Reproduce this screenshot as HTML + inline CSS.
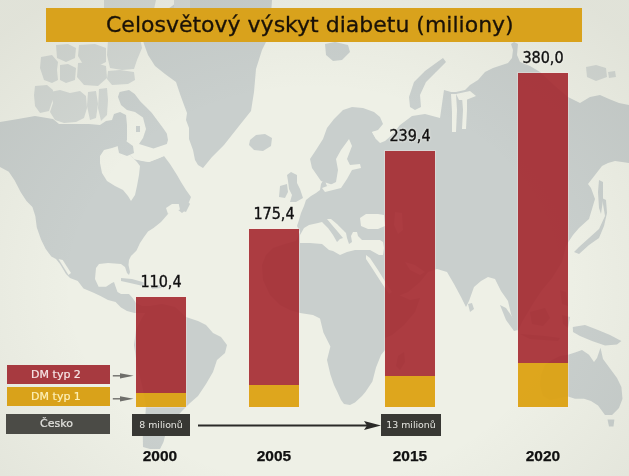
<!DOCTYPE html>
<html><head><meta charset="utf-8">
<style>
html,body{margin:0;padding:0;}
body{width:629px;height:476px;overflow:hidden;position:relative;background:#eef0e6;font-family:"DejaVu Sans","Liberation Sans",sans-serif;}
#map{position:absolute;left:0;top:0;}
.title{position:absolute;left:46px;top:8px;width:536px;height:34px;background:#d9a21c;}
.title span{position:absolute;left:60px;top:2px;font-size:22px;line-height:30px;color:#1a1208;white-space:nowrap;-webkit-text-stroke:0.3px #1a1208;}
.bar{position:absolute;width:50px;box-shadow:0 0 0 1px rgba(255,236,232,0.3);}
.red{background:rgba(164,40,47,0.9);}
.yel{background:rgba(220,161,18,0.95);}
.val{position:absolute;width:80px;text-align:center;font-family:"DejaVu Sans",sans-serif;font-stretch:condensed;font-size:16px;line-height:16px;color:#111;text-shadow:0 0 2px #f4f4ee,0 0 3px #f4f4ee;-webkit-text-stroke:0.35px #111;}
.yr{position:absolute;width:80px;text-align:center;font-family:"Liberation Sans",Arial,sans-serif;font-weight:bold;font-size:15.5px;line-height:16px;color:#111;-webkit-text-stroke:0.25px #111;}
.leg{position:absolute;left:7px;width:98px;padding-right:5px;height:19px;text-align:center;font-size:11px;line-height:19px;-webkit-text-stroke:0.2px currentColor;}
.box{position:absolute;height:21.5px;background:#383834;color:#e6e6e2;text-align:center;font-family:"DejaVu Sans",sans-serif;font-size:9.4px;line-height:21.5px;}
.vig{position:absolute;left:0;top:0;width:629px;height:476px;background:radial-gradient(ellipse 70% 75% at 50% 60%, rgba(90,90,80,0) 55%, rgba(90,90,80,0.09) 100%);}
</style></head><body>
<svg id="map" width="629" height="476" viewBox="0 0 629 476">
<path d="M0,122 L18,119 L35,116 L53,119 L59,124 L66,124 L74,124 L89,124 L100,125 L106,121 L112,120 L114,114 L120,112 L126,115 L127,125 L127,140 L124,146 L128,152 L134,159 L142,161 L149,162 L157,159 L164,156 L170,164 L177,175 L181,182 L186,190 L191,197 L189,202 L184,205 L187,209 L182,213 L177,209 L172,211 L168,214 L161,222 L153.5,228 L148,231.6 L144,237 L140,243 L136.5,250.5 L131,256 L129,260 L128.5,265 L130,272 L129,275 L127,273 L125,267 L121,264 L108,263 L99,264 L96,268 L95,279 L98.6,286.7 L106,286.7 L111.8,283 L114,282 L115.6,286.7 L117.5,292 L121,294 L129,294 L132.6,298 L136,303 L142,306 L150,306 L156,309 L150,313 L144,313 L134.5,313 L127,311 L121,307.5 L115.6,302 L108,300 L100.5,296 L93,292.4 L83.5,288.6 L77.8,281 L70,278 L66,274 L60,264 L56,259 L51.3,256.5 L45.7,249 L41,239.4 L36.8,227.6 L35.3,216 L32.4,207 L26.5,201 L20.6,192 L14.7,180.6 L8.8,171.8 L0,167 Z" fill="#c9cfcd"/>
<path d="M321,181 L312,168 L310,159 L316,150 L323,139 L327,128 L334,119 L343,110 L352,107 L363,108 L374,112 L380,117 L383,124 L378,130 L372,132 L376,139 L380,143 L385,141 L392,135 L400,125 L412,116 L425,114 L440,118 L444,90 L451,92 L456,92 L465,90 L470,85 L478,80 L485,72 L493,68 L499,66 L508,63 L512,58 L513,50 L511,44 L514,42 L518,44 L517,55 L520,62 L530,66 L540,72 L555,86 L568,97 L580,103 L590,97 L600,95 L609,99 L619,103 L629,105 L629,163 L615,161 L608,163 L602,166 L595,175 L588,184 L591,188 L595,199 L589,219 L579,228 L573,235 L569,241 L566,246 L562,262 L552,278 L542,290 L534,302 L528,312 L522,322 L518,331 L515,325 L511,314 L508,301 L501,291 L495,279 L488,277 L481,281 L474,287 L469,301 L466,307 L461,297 L454,284 L447,272 L437,269 L428,272 L420,282 L408,292 L398,296 L392,292 L410,300 L420,298 L415,312 L404,325 L392,335 L385,338 L385,350 L381,355 L376,367.4 L372.4,381.4 L365.4,392 L362,396 L355,402.4 L350,405 L344,404 L341,400 L337.4,392 L334,385 L330.4,374.4 L327,360 L330.4,346.5 L323.4,332.5 L320,318.5 L313,315 L300,313 L290,310 L280,305 L270,295 L263,280 L262,265 L266,255 L273,248 L285,244 L296,241 L300,232 L297,226 L299,220 L301,213 L304,206 L306,200 L311,196 L316,193 L320,190 L321,184 L324,179 L327,186 L333,185 Z" fill="#c9cfcd"/>
<path d="M150,306 L162,304 L175,307 L186,317 L198,321 L206,325 L213,333 L221,337 L227,345 L225,353 L217,360 L213,372 L206,384 L198,396 L190,403 L182,411 L172,422 L166,432 L163.5,442 L160,449 L150,449 L143,447 L142.8,436 L145,422 L146,405 L142,385 L137,365 L134,345 L136,330 L142,318 Z" fill="#c9cfcd"/>
<path d="M100,156 L104,150 L112,148 L118,146 L124,147 L128,152 L133,158 L137,162 L140,166 L139,175 L137,186 L135,195 L131,201 L128,196 L123,190 L115,186 L107,181 L102,173 L100,163 Z" fill="#eef0e6"/>
<path d="M124,146 L139,144 L153.5,148.5 L166.8,144 L172,150 L164,156 L149,162 L134,159 L128,152 Z" fill="#eef0e6"/>
<path d="M127,116 L135,115 L143,117.6 L146,129 L143,138 L139,144 L132,146 L127,140 Z" fill="#eef0e6"/>
<path d="M166,208 L172,204 L180,204 L182,209 L175,211 L168,214 Z" fill="#eef0e6"/>
<path d="M58.5,259 L62.7,260 L71,273 L68.5,275 Z" fill="#eef0e6"/>
<path d="M349,139 L352,146 L347,159 L350,165 L360,164 L361,168 L352,170 L347,179 L341,188 L333,190 L325,192 L322,188 L330,185 L336,182 L338,170 L336,159 L341,150 Z" fill="#eef0e6"/>
<path d="M372,132 L382,130 L386,136 L380,140 L376,139 Z" fill="#eef0e6"/>
<path d="M300,243 L300,235 L304,228 L309,225 L318,223 L322,222 L328,228 L333,235 L337,242 L340,239 L343,238 L338,232 L332,225 L327,219 L331,219 L337,224 L343,230 L346,233 L347,238 L349,244 L352,242 L351,236 L353,232 L357,232 L358,236 L362,240 L372,240 L380,240 L383,242 L384,248 L383,255 L379,255 L370,250 L355,250 L347,252 L340,255 L333,251 L329,250 L322,244 L310,243 Z" fill="#eef0e6"/>
<path d="M360,218 L366,214 L378,214 L384,215 L385,226 L378,229 L368,229 L361,226 Z" fill="#eef0e6"/>
<path d="M395,212 L402,213 L403,230 L398,234 L394,225 Z" fill="#eef0e6"/>
<path d="M366,255 L370,258 L378,270 L386,283 L392,292 L389,294 L381,282 L372,268 L366,259 Z" fill="#eef0e6"/>
<path d="M405,262 L415,265 L425,272 L420,275 L410,270 Z" fill="#eef0e6"/>
<path d="M451,94 L456,94 L457,110 L456,132 L452,132 L452,112 Z" fill="#eef0e6"/>
<path d="M462,97 L467,96 L467,110 L466,129 L462,129 L463,110 Z" fill="#eef0e6"/>
<path d="M456,94 L470,91 L476,96 L466,100 L459,100 Z" fill="#eef0e6"/>
<path d="M119.6,92 L129,90 L134.7,94 L140.4,101.5 L146,107 L151.7,112.8 L157.4,120.4 L163,128 L166.8,133.6 L168,140 L166.8,144 L153.5,148.5 L139,144 L143,138 L146,129 L143,117.6 L135,112 L127,110 L121,105 L118,97 Z" fill="#c9cfcd"/>
<path d="M117,143 L126,141 L133,146 L134,153 L127,156 L119,153 Z" fill="#c9cfcd"/>
<path d="M136,126 L140,126 L140,132 L136,132 Z" fill="#c9cfcd"/>
<path d="M178,200 L186,199 L190,204 L186,212 L180,210 Z" fill="#c9cfcd"/>
<path d="M121,278 L132,279 L146,283 L143,286 L130,283 L121,281 Z" fill="#c9cfcd"/>
<path d="M150,285 L160,285 L162,288 L152,289 Z" fill="#c9cfcd"/>
<path d="M180,0 L272,0 L270,30 L266,42 L262,50 L256,69 L254,92 L251,111 L239,126 L224,145 L212,157 L203,168 L198,165 L195,160 L193,150 L189,139 L189,128 L186,120 L187,113 L184,105 L180,94 L176,82 L165,74 L155,66 L148,55 L144,44 L140,30 Z" fill="#c9cfcd"/>
<path d="M250,140 L256,135 L265,134 L272,138 L271,146 L263,151 L254,150 L249,145 Z" fill="#c9cfcd"/>
<path d="M325,44 L335,42 L348,45 L350,52 L342,60 L333,61 L326,55 Z" fill="#c9cfcd"/>
<path d="M410,107 L409,97 L414,82 L425,71 L436,63 L443,58 L446,62 L436,72 L426,82 L420,95 L421,107 L415,110 Z" fill="#c9cfcd"/>
<path d="M291,172 L297,175 L297,183 L300,189 L303,198 L296,202 L290,202 L292,195 L289,189 L288,181 L287,175 Z" fill="#c9cfcd"/>
<path d="M280,186 L287,184 L288,192 L285,198 L279,197 Z" fill="#c9cfcd"/>
<path d="M602,198 L605,216 L599,229 L589,238 L579,247 L574,252 L579,254 L589,245 L599,238 L604,226 L607,213 L606,200 Z" fill="#c9cfcd"/>
<path d="M599,180 L603,182 L603,200 L601,214 L599,208 L598,192 Z" fill="#c9cfcd"/>
<path d="M398,356 L404,352 L405,362 L400,370 L396,366 Z" fill="#c9cfcd"/>
<path d="M468,304 L472,303 L474,309 L470,312 Z" fill="#c9cfcd"/>
<path d="M541,375 L545,365 L552,360 L560,356 L568,354.7 L575,352.4 L582,350 L589,354.7 L594,362 L597,358 L600.5,347.8 L603,359 L610,368.6 L617,378 L621.4,387 L622.5,398.7 L619,408 L612,415 L605,415 L598,405.6 L591,401 L584,398.7 L575,398.7 L568,396.4 L560,398 L550,400 L543,396 L540,385 Z" fill="#c9cfcd"/>
<path d="M607.5,419.5 L614.4,419.5 L613.5,426.5 L609,426.5 Z" fill="#c9cfcd"/>
<path d="M572.8,327 L585,325 L598,330 L610,335 L621.4,341 L617,344.5 L605,345.5 L592,341 L580,336 L573,332 Z" fill="#c9cfcd"/>
<path d="M500,305 L506,308 L513,318 L518,330 L514,331 L506,320 Z" fill="#c9cfcd"/>
<path d="M530,312 L545,308 L550,318 L543,326 L532,324 Z" fill="#c9cfcd"/>
<path d="M520,334 L545,336 L560,338 L558,341 L530,339 Z" fill="#c9cfcd"/>
<path d="M562,315 L570,317 L568,328 L563,324 Z" fill="#c9cfcd"/>
<path d="M560,290 L566,292 L568,306 L562,304 Z" fill="#c9cfcd"/>
<path d="M99,89 L107,88 L108,100 L107,115 L101,121 L98,108 Z" fill="#d2d7d3"/>
<path d="M88,92 L96,91 L98,104 L96,118 L90,120 L87,106 Z" fill="#d2d7d3"/>
<path d="M50,92 L60,90 L70,93 L80,91 L86,96 L87,108 L84,118 L76,122 L64,123 L55,120 L50,112 L53,103 Z" fill="#d2d7d3"/>
<path d="M35,86 L47,85 L53,90 L52,102 L49,111 L40,113 L35,106 L34,95 Z" fill="#d2d7d3"/>
<path d="M41,57 L52,55 L58,62 L57,70 L58,80 L52,83 L44,80 L40,68 Z" fill="#d2d7d3"/>
<path d="M60,65 L68,64 L76,68 L75,80 L66,83 L60,80 Z" fill="#d2d7d3"/>
<path d="M78,63 L92,62 L106,66 L107,78 L98,86 L84,85 L77,77 Z" fill="#d2d7d3"/>
<path d="M108,71 L120,70 L134,72 L135,80 L128,84 L112,85 L107,79 Z" fill="#d2d7d3"/>
<path d="M108,40 L124,38 L140,38 L142,48 L137,60 L134,69 L122,70 L110,68 L107,55 Z" fill="#d2d7d3"/>
<path d="M79,45 L95,44 L106,48 L106,62 L96,67 L84,66 L78,56 Z" fill="#d2d7d3"/>
<path d="M56,45 L68,44 L76,48 L75,58 L66,62 L57,58 Z" fill="#d2d7d3"/>
<path d="M104,0 L156,0 L154,9 L104,9 Z" fill="#d2d7d3"/>
<path d="M174,0 L190,0 L190,9 L174,9 Z" fill="#d2d7d3"/>
<path d="M586,67 L596,65 L606,68 L607,77 L596,81 L587,77 Z" fill="#d2d7d3"/>
<path d="M608,72 L615,71 L616,77 L609,78 Z" fill="#d2d7d3"/>
</svg>
<div class="vig"></div>
<div class="title"><span>Celosvětový výskyt diabetu (miliony)</span></div>

<div class="bar" style="left:136px;top:297px;height:109.7px"><div class="red" style="height:96px"></div><div class="yel" style="height:13.7px"></div></div>
<div class="bar" style="left:249px;top:229px;height:177.7px"><div class="red" style="height:156px"></div><div class="yel" style="height:21.7px"></div></div>
<div class="bar" style="left:385px;top:150.5px;height:256.2px"><div class="red" style="height:225.5px"></div><div class="yel" style="height:30.7px"></div></div>
<div class="bar" style="left:518px;top:73px;height:333.7px"><div class="red" style="height:289.5px"></div><div class="yel" style="height:44.2px"></div></div>

<div class="val" style="left:121px;top:274px">110,4</div>
<div class="val" style="left:234px;top:206px">175,4</div>
<div class="val" style="left:370px;top:128px">239,4</div>
<div class="val" style="left:503px;top:49.5px">380,0</div>

<div class="leg" style="top:365px;background:#a73a40;color:#f7e6e6">DM typ 2</div>
<div class="leg" style="top:387px;background:#d9a21a;color:#fdf0b8">DM typ 1</div>
<div class="leg" style="left:6px;width:101px;padding-right:3px;top:414px;height:20px;line-height:20px;background:#4b4b46;color:#e2e2de">Česko</div>

<svg style="position:absolute;left:0;top:0" width="629" height="476" viewBox="0 0 629 476">
<g stroke="#6e6e6a" stroke-width="1.4" fill="#6e6e6a">
<line x1="112.8" y1="375.8" x2="121" y2="375.8"/><path d="M120,373.2 L133.6,375.8 L120,378.4 Z" stroke="none"/>
<line x1="112.8" y1="398.8" x2="121" y2="398.8"/><path d="M120,396.2 L133.6,398.8 L120,401.4 Z" stroke="none"/>
</g>
<line x1="198" y1="425.5" x2="368" y2="425.5" stroke="#2a2a28" stroke-width="2"/>
<path d="M364,421 L381,425.5 L364,430 L367,425.5 Z" fill="#2a2a28"/>
</svg>

<div class="box" style="left:132px;top:414.2px;width:58px">8 milionů</div>
<div class="box" style="left:381.2px;top:414.2px;width:59.6px">13 milionů</div>

<div class="yr" style="left:120px;top:447.6px">2000</div>
<div class="yr" style="left:234px;top:447.6px">2005</div>
<div class="yr" style="left:370px;top:447.6px">2015</div>
<div class="yr" style="left:503px;top:447.6px">2020</div>
</body></html>
